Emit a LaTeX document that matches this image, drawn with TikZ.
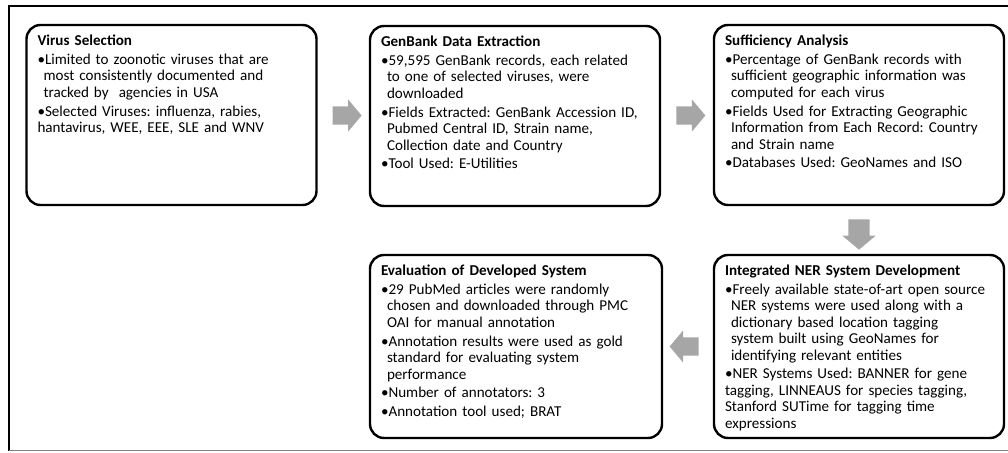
\documentclass[tikz,border=0pt]{standalone}
\usepackage{fontspec}
\setmainfont{Carlito}
\usetikzlibrary{shapes.arrows, positioning, calc}

% body text of the boxes
\newcommand{\bodyfont}{\fontsize{15.1}{16.5}\selectfont\frenchspacing\setlength{\parskip}{2.2pt}\relax}
% bullet item with hanging indent
\newcommand{\bul}{\par\hangindent=6pt\hangafter=1\noindent\textbullet}

\begin{document}
\begin{tikzpicture}[
    x=1pt, y=-1pt,
    box/.style={draw, rounded corners=14pt, line width=2.4pt, minimum width=290pt, minimum height=180pt},
    txt/.style={anchor=north west, inner sep=0pt, text width=285pt, align=left, font=\bodyfont},
    blk/.style={single arrow, draw=none, fill=black!35, inner sep=9pt, single arrow head extend=7pt,
        single arrow tip angle=100, single arrow head indent=0pt, minimum height=29pt}
]
\useasboundingbox (0,0) rectangle (1008,452);

% outer frame (cut on the right)
\draw[line width=2.5pt] (1008,6) -- (9,6) -- (9,451);
\draw[black!50, line width=1.5pt] (9,450.5) -- (1008,450.5);

% =========================================================
% top row
% =========================================================
\node[box] (virus) at (171.5,115) {};
\node[txt] (virusT) at ([shift={(12pt,-11pt)}]virus.north west) {%
    \textbf{Virus Selection}
    \bul Limited to zoonotic viruses that are\newline most consistently documented and\newline tracked by\ \ agencies in USA
    \bul Selected Viruses: influenza, rabies,\newline hantavirus, WEE, EEE, SLE and WNV};

\node[box] (genbank) at (515,116) {};
\node[txt] (genbankT) at ([shift={(12pt,-11pt)}]genbank.north west) {%
    \textbf{GenBank Data Extraction}
    \bul 59,595 GenBank records, each related\newline to one of selected viruses, were\newline downloaded
    \bul Fields Extracted: GenBank Accession ID,\newline Pubmed Central ID, Strain name,\newline Collection date and Country
    \bul Tool Used: E-Utilities};

\node[box] (suff) at (859,115) {};
\node[txt] (suffT) at ([shift={(12pt,-11pt)}]suff.north west) {%
    \textbf{Sufficiency Analysis}
    \bul Percentage of GenBank records with\newline sufficient geographic information was\newline computed for each virus
    \bul Fields Used for Extracting Geographic\newline Information from Each Record: Country\newline and Strain name
    \bul Databases Used: GeoNames and ISO};

% =========================================================
% bottom row
% =========================================================
\node[box, minimum height=183pt] (ner) at (859,346.5) {};
\node[txt] (nerT) at ([shift={(12pt,-11pt)}]ner.north west) {%
    \textbf{Integrated NER System Development}
    \bul Freely available state-of-art open source\newline NER systems were used along with a\newline dictionary based location tagging\newline system built using GeoNames for\newline identifying relevant entities
    \bul NER Systems Used: BANNER for gene\newline tagging, LINNEAUS for species tagging,\newline Stanford SUTime for tagging time\newline expressions};

\node[box, minimum width=292pt, minimum height=183pt] (eval) at (516,346.5) {};
\node[txt] (evalT) at ([shift={(12pt,-11pt)}]eval.north west) {%
    \textbf{Evaluation of Developed System}
    \bul 29 PubMed articles were randomly\newline chosen and downloaded through PMC\newline OAI for manual annotation
    \bul Annotation results were used as gold\newline standard for evaluating system\newline performance
    \bul Number of annotators: 3
    \bul Annotation tool used; BRAT};

% block arrows between the steps
\node[blk] (a1) at ($(virus.east)!0.5!(genbank.west)$) {};
\node[blk] (a2) at ($(genbank.east)!0.5!(suff.west)$) {};
\node[blk, shape border rotate=270, inner sep=10.5pt, single arrow head extend=6pt, minimum height=25pt] (a3) at ($(suff.south)!0.5!(ner.north)$) {};
\node[blk, shape border rotate=180] (a4) at ($(ner.west)!0.5!(eval.east)$) {};

\end{tikzpicture}
\end{document}
